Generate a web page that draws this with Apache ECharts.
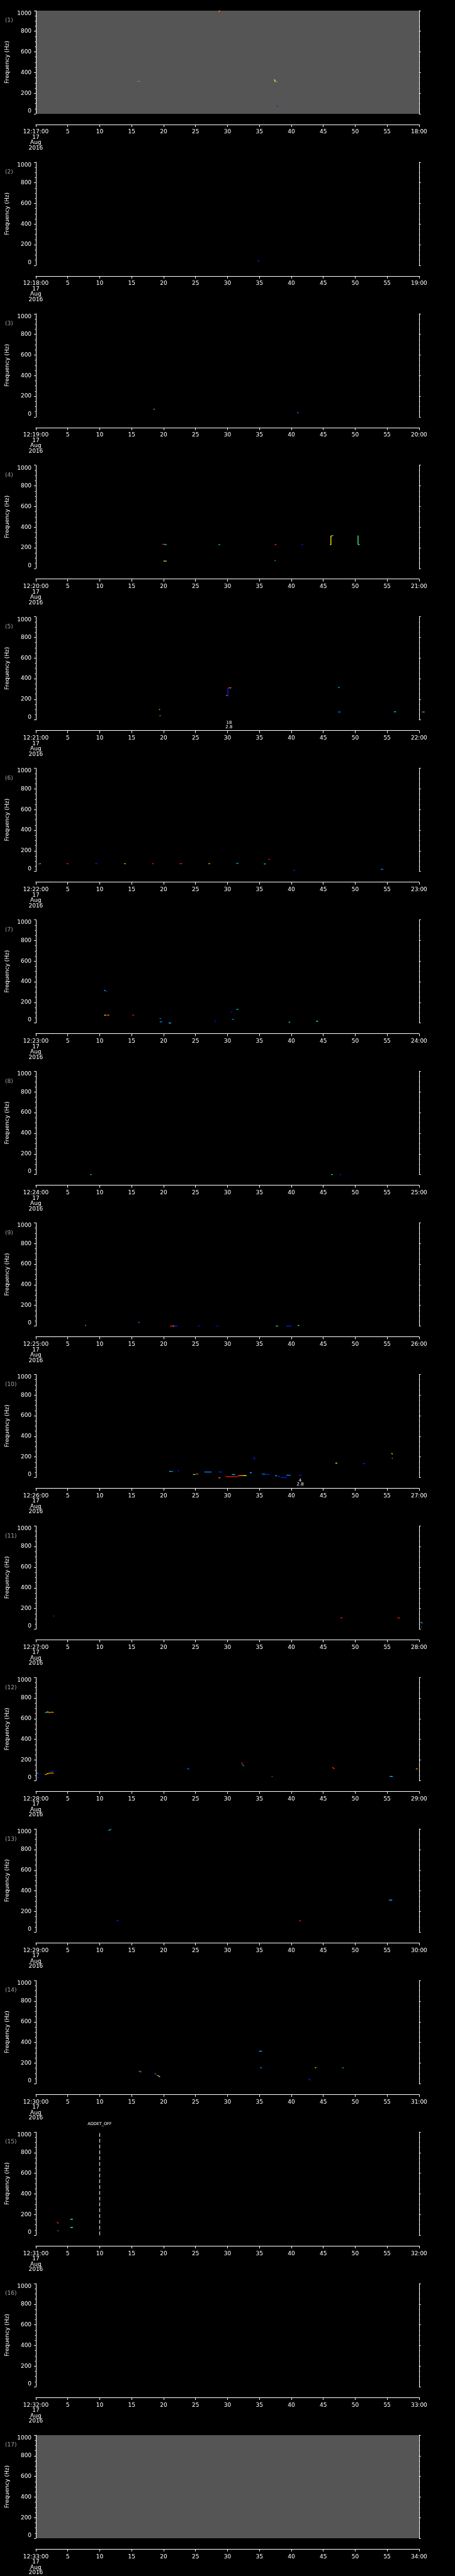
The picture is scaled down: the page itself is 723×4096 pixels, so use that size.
<!DOCTYPE html>
<html>
<head>
<meta charset="utf-8">
<script src="https://cdn.jsdelivr.net/npm/echarts@6/dist/echarts.min.js"></script>
<style>
  html, body { margin: 0; padding: 0; background: #000; }
  #chart { width: 723px; height: 4096px; }
</style>
</head>
<body>
<div id="chart"></div>
<script>
// tick labels
const panelStart = ['12:17:00', '12:18:00', '12:19:00', '12:20:00', '12:21:00', '12:22:00', '12:23:00', '12:24:00', '12:25:00',
  '12:26:00', '12:27:00', '12:28:00', '12:29:00', '12:30:00', '12:31:00', '12:32:00', '12:33:00']
const panelEnd = ['18:00', '19:00', '20:00', '21:00', '22:00', '23:00', '24:00', '25:00', '26:00',
  '27:00', '28:00', '29:00', '30:00', '31:00', '32:00', '33:00', '34:00']
const dateLines = ['17', 'Aug', '2016']
const midTicks = ['5', '10', '15', '20', '25', '30', '35', '40', '45', '50', '55']
const freqTicks = ['0', '200', '400', '600', '800', '1000']

// colour steps of the spectrogram (blue .. red)
const jet = ['#0022ff', '#00ccff', '#44ff88', '#ffee00', '#ff8c00', '#ff1a00', '#0088ff']
const grayPanels = [1, 17]

// tracks: [t0 (s), t1 (s), f0 (Hz), f1 (Hz), colour]
const trk1 = [
  [28.6, 28.65, 975, 988, 5], [28.65, 28.75, 988, 1000, 4], [28.75, 28.8, 1000, 1000, 3],
  [15.9, 16.05, 315, 315, 1], [16.05, 16.2, 315, 315, 5], [16.2, 16.3, 315, 315, 2], [16.3, 16.4, 315, 315, 5],
  [37.4, 37.4, 334, 316, 3], [37.4, 37.6, 316, 316, 3], [37.6, 37.8, 312, 306, 1],
  [37.7, 37.9, 74, 74, 0]
]
const trk2 = [[34.7, 35.0, 41, 41, 0]]
const trk3 = [[18.45, 18.6, 75, 75, 3], [40.9, 41.15, 42, 40, 6]]
const trk4 = [
  [19.8, 20.1, 234, 234, 5], [20.1, 20.5, 231, 231, 1],
  [20.0, 20.25, 71, 71, 3], [20.25, 20.5, 71, 71, 2],
  [28.6, 28.85, 231, 231, 1],
  [37.4, 37.55, 231, 231, 5], [37.55, 37.65, 231, 231, 4],
  [37.4, 37.55, 75, 75, 1],
  [41.6, 41.85, 231, 231, 0],
  [46.2, 46.2, 231, 315, 3], [46.05, 46.25, 231, 231, 3], [46.2, 46.4, 315, 315, 3], [46.4, 46.6, 319, 319, 1],
  [50.45, 50.45, 231, 319, 2], [50.45, 50.7, 231, 231, 2]
]
const trk5 = [
  [19.3, 19.45, 101, 101, 3], [19.4, 19.5, 41, 41, 3],
  [29.8, 30.0, 238, 238, 4], [30.0, 30.1, 232, 232, 0], [30.07, 30.07, 232, 311, 0],
  [30.1, 30.35, 311, 311, 5], [30.35, 30.6, 311, 311, 4],
  [47.3, 47.45, 313, 313, 1], [47.45, 47.6, 315, 315, 6],
  [47.35, 47.7, 77, 77, 6],
  [56.05, 56.4, 79, 79, 1],
  [60.4, 60.65, 77, 77, 5], [60.65, 60.85, 77, 77, 2]
]
const trk6 = [
  [0.4, 0.6, 73, 73, 5], [0.6, 0.8, 75, 75, 1],
  [4.8, 5.1, 75, 75, 5],
  [9.3, 9.65, 75, 75, 0],
  [13.8, 14.1, 75, 75, 4],
  [18.2, 18.45, 75, 75, 5],
  [22.5, 22.9, 75, 75, 5],
  [27.0, 27.3, 75, 75, 4],
  [31.4, 31.7, 78, 78, 1],
  [35.7, 36.0, 73, 73, 1],
  [36.4, 36.65, 118, 118, 5],
  [40.3, 40.6, 11, 11, 0],
  [54.0, 54.4, 21, 21, 6]
]
const trk7 = [
  [10.7, 10.95, 315, 315, 1], [10.95, 11.2, 305, 305, 0],
  [10.7, 10.95, 76, 76, 3], [10.95, 11.25, 76, 76, 5], [11.25, 11.5, 76, 76, 4],
  [15.1, 15.4, 76, 76, 5],
  [19.4, 19.55, 42, 42, 1], [19.4, 19.8, 11, 11, 6],
  [20.8, 21.2, 0, 0, 1],
  [28.0, 28.2, 17, 17, 0],
  [30.6, 30.7, 101, 112, 0],
  [30.7, 31.0, 36, 36, 6],
  [31.4, 31.7, 132, 132, 1],
  [39.6, 39.8, 8, 8, 2],
  [43.9, 44.2, 17, 17, 2]
]
const trk8 = [[8.5, 8.75, 0, 0, 1], [46.2, 46.5, 0, 0, 1], [47.6, 47.8, 0, 0, 0]]
const trk9 = [
  [7.7, 7.85, 6, 6, 4],
  [16.0, 16.25, 36, 36, 6],
  [21.0, 21.4, 0, 0, 5], [21.4, 21.7, 0, 0, 4], [21.7, 22.2, 0, 0, 0],
  [25.4, 25.65, 0, 0, 0],
  [28.3, 28.55, 0, 0, 0],
  [37.6, 37.9, 0, 0, 2],
  [39.2, 40.0, 0, 0, 0],
  [41.0, 41.25, 6, 6, 2]
]
const trk10 = [
  [20.9, 21.2, 60, 60, 1], [21.2, 21.5, 60, 60, 6],
  [22.2, 22.45, 66, 66, 0],
  [24.6, 25.0, 30, 30, 2], [25.0, 25.2, 34, 34, 5], [25.2, 25.4, 34, 34, 4],
  [26.4, 27.5, 54, 54, 6],
  [28.6, 29.2, 54, 54, 0],
  [28.6, 28.9, -2, -2, 4],
  [29.7, 31.5, 9, 9, 5],
  [31.5, 31.8, 15, 15, 5], [31.8, 32.4, 19, 19, 4], [32.4, 33.0, 19, 19, 3],
  [30.7, 31.2, 30, 30, 1],
  [33.5, 33.8, 47, 47, 1],
  [34.15, 34.15, 182, 200, 0], [34.15, 34.35, 182, 182, 0],
  [35.4, 35.9, 34, 34, 6], [35.9, 36.6, 30, 30, 0],
  [37.5, 37.7, 22, 14, 1], [37.8, 38.2, 13, 13, 0],
  [38.4, 39.3, 0, 0, 0],
  [39.2, 39.9, 22, 22, 6],
  [41.2, 41.6, 22, 22, 0],
  [46.9, 47.2, 140, 140, 3],
  [51.2, 51.6, 135, 135, 0],
  [55.7, 55.85, 236, 227, 3], [55.75, 55.85, 187, 187, 2]
]
const trk11 = [
  [2.7, 2.95, 127, 127, 0],
  [47.7, 48.0, 109, 109, 5],
  [56.6, 57.0, 109, 109, 5],
  [60.2, 60.4, 66, 66, 1], [60.4, 60.55, 62, 54, 6], [60.3, 60.4, 22, 22, 4]
]
const trk12 = [
  [0.15, 0.35, 73, 73, 1], [0.35, 0.55, 66, 62, 0],
  [0.2, 0.5, 28, 28, 0],
  [1.45, 1.7, 660, 660, 1], [1.7, 2.0, 665, 665, 3], [2.0, 2.3, 660, 660, 4], [2.3, 2.8, 663, 663, 4],
  [1.4, 1.7, 60, 60, 4], [1.7, 2.0, 67, 67, 3], [2.0, 2.8, 73, 73, 4],
  [2.3, 2.8, 92, 92, 0],
  [23.7, 24.0, 114, 114, 6],
  [32.3, 32.3, 157, 178, 5], [32.35, 32.6, 155, 140, 6],
  [36.9, 37.1, 41, 41, 5],
  [46.4, 46.8, 129, 114, 5],
  [55.4, 55.9, 41, 41, 1],
  [59.5, 59.8, 114, 114, 4]
]
const trk13 = [
  [11.4, 11.8, 985, 998, 1],
  [12.65, 13.0, 112, 112, 0],
  [41.2, 41.5, 110, 110, 5],
  [55.3, 55.8, 311, 311, 1]
]
const trk14 = [
  [16.05, 16.3, 122, 122, 5], [16.3, 16.5, 116, 116, 2],
  [18.6, 18.75, 97, 97, 1], [18.75, 18.9, 90, 90, 0], [18.9, 19.05, 82, 82, 5], [19.05, 19.15, 79, 79, 4],
  [19.15, 19.3, 75, 75, 3], [19.3, 19.45, 71, 71, 2], [19.3, 19.45, 66, 66, 1],
  [34.9, 35.0, 307, 307, 0], [35.0, 35.4, 315, 315, 1],
  [35.1, 35.4, 155, 155, 6],
  [42.7, 43.0, 47, 34, 0],
  [43.7, 43.9, 155, 155, 3],
  [48.0, 48.2, 155, 155, 1]
]
const trk15 = [
  [3.3, 3.6, 127, 114, 5],
  [3.4, 3.6, 43, 43, 6],
  [5.4, 5.8, 155, 155, 2],
  [5.4, 5.8, 76, 76, 2]
]
const trk16 = []
const trk17 = []
const tracks = [trk1, trk2, trk3, trk4, trk5, trk6, trk7, trk8, trk9, trk10, trk11, trk12, trk13, trk14, trk15, trk16, trk17]

// small annotations under the plots and the event line
const notes = [{ panel: 5, t: 30.25, text: '18\n2.8' }, { panel: 10, t: 41.4, text: '4\n2.8' }]
const events = [{ panel: 15, t: 10, text: 'ADDET_OFF' }]

const S = 0.705
const PH = 4096 / 17
const gLeft = 80.7 * S
const gWidth = 863.8 * S
const gTop = 24 * S
const gHeight = 232.7 * S
const FONT = 'DejaVu Sans'

const grids = []
const xAxes = []
const yAxes = []
const series = []

for (let i = 0; i < 17; i++) {
  const panel = i + 1
  grids.push({
    left: gLeft,
    top: i * PH + gTop,
    width: gWidth,
    height: gHeight,
    show: grayPanels.indexOf(panel) >= 0,
    backgroundColor: '#555555',
    borderWidth: 0,
    containLabel: false,
    outerBoundsMode: 'none'
  })
  xAxes.push({
    type: 'value',
    gridIndex: i,
    min: 0,
    max: 60,
    interval: 5,
    position: 'bottom',
    offset: 24 * S,
    axisLine: { show: true, onZero: false, lineStyle: { color: '#fff', width: 1 } },
    axisTick: { show: true, length: 4, lineStyle: { color: '#fff', width: 1 } },
    splitLine: { show: false },
    axisLabel: {
      color: '#fff',
      fontFamily: FONT,
      fontSize: 9,
      lineHeight: 8.5,
      margin: 8,
      showMinLabel: true,
      showMaxLabel: true,
      hideOverlap: false,
      formatter: function (v) {
        if (v === 0) return panelStart[i] + '\n' + dateLines.join('\n')
        if (v === 60) return panelEnd[i]
        return midTicks[Math.round(v / 5) - 1]
      }
    }
  })
  const yBase = {
    type: 'value',
    gridIndex: i,
    min: 0,
    max: 1000,
    interval: 200,
    axisLine: { show: true, onZero: false, lineStyle: { color: '#fff', width: 1 } },
    axisTick: { show: true, length: 2.8, lineStyle: { color: '#fff', width: 1 } },
    minorTick: { show: true, splitNumber: 4, length: 1.4, lineStyle: { color: '#fff', width: 1 } },
    splitLine: { show: false },
    minorSplitLine: { show: false }
  }
  yAxes.push(Object.assign({}, yBase, {
    position: 'left',
    name: 'Frequency (Hz)',
    nameLocation: 'middle',
    nameGap: 36,
    nameTextStyle: { color: '#fff', fontFamily: FONT, fontSize: 9 },
    axisLabel: {
      color: '#fff',
      fontFamily: FONT,
      fontSize: 9,
      margin: 6.8,
      showMinLabel: true,
      showMaxLabel: true,
      verticalAlignMinLabel: 'bottom',
      verticalAlignMaxLabel: 'top',
      formatter: function (v) { return freqTicks[Math.round(v / 200)] }
    }
  }))
  yAxes.push(Object.assign({}, yBase, {
    position: 'right',
    axisLabel: { show: false }
  }))

  const s = {
    type: 'custom',
    xAxisIndex: i,
    yAxisIndex: 2 * i,
    silent: true,
    animation: false,
    clip: false,
    data: tracks[i],
    renderItem: function (params, api) {
      const a = api.coord([api.value(0), api.value(2)])
      const b = api.coord([api.value(1), api.value(3)])
      return {
        type: 'line',
        shape: { x1: a[0], y1: a[1], x2: b[0], y2: b[1] },
        style: { stroke: jet[api.value(4)], lineWidth: 1.3, lineCap: 'butt' }
      }
    }
  }
  const ev = events.filter(e => e.panel === panel)
  if (ev.length) {
    s.markLine = {
      silent: true,
      animation: false,
      symbol: ['none', 'none'],
      label: { show: false },
      lineStyle: { color: '#fff', width: 1, type: [6, 3.2] },
      data: ev.map(e => ({ xAxis: e.t }))
    }
  }
  series.push(s)
}

const myChart = echarts.init(document.getElementById('chart'), null, { renderer: 'canvas' })
myChart.setOption({
  backgroundColor: '#000',
  animation: false,
  grid: grids,
  xAxis: xAxes,
  yAxis: yAxes,
  series: series
})

// panel numbers and text annotations
const graphics = []
for (let i = 0; i < 17; i++) {
  graphics.push({
    type: 'text',
    x: 8,
    y: i * PH + 32.9,
    silent: true,
    style: { text: '(' + (i + 1) + ')', fill: '#a0a0a0', fontFamily: FONT, fontSize: 9, verticalAlign: 'middle', align: 'left' }
  })
}
notes.forEach(n => {
  const p = myChart.convertToPixel({ gridIndex: n.panel - 1 }, [n.t, 0])
  graphics.push({
    type: 'text',
    x: p[0],
    y: p[1] + 1,
    silent: true,
    style: { text: n.text, fill: '#fff', fontFamily: FONT, fontSize: 7, lineHeight: 6.8, align: 'center', verticalAlign: 'top' }
  })
})
events.forEach(e => {
  const p = myChart.convertToPixel({ gridIndex: e.panel - 1 }, [e.t, 1000])
  graphics.push({
    type: 'text',
    x: p[0],
    y: p[1] - 12.6,
    silent: true,
    style: { text: e.text, fill: '#fff', fontFamily: FONT, fontSize: 6.5, align: 'center', verticalAlign: 'middle' }
  })
})
myChart.setOption({ graphic: graphics })
</script>
</body>
</html>
